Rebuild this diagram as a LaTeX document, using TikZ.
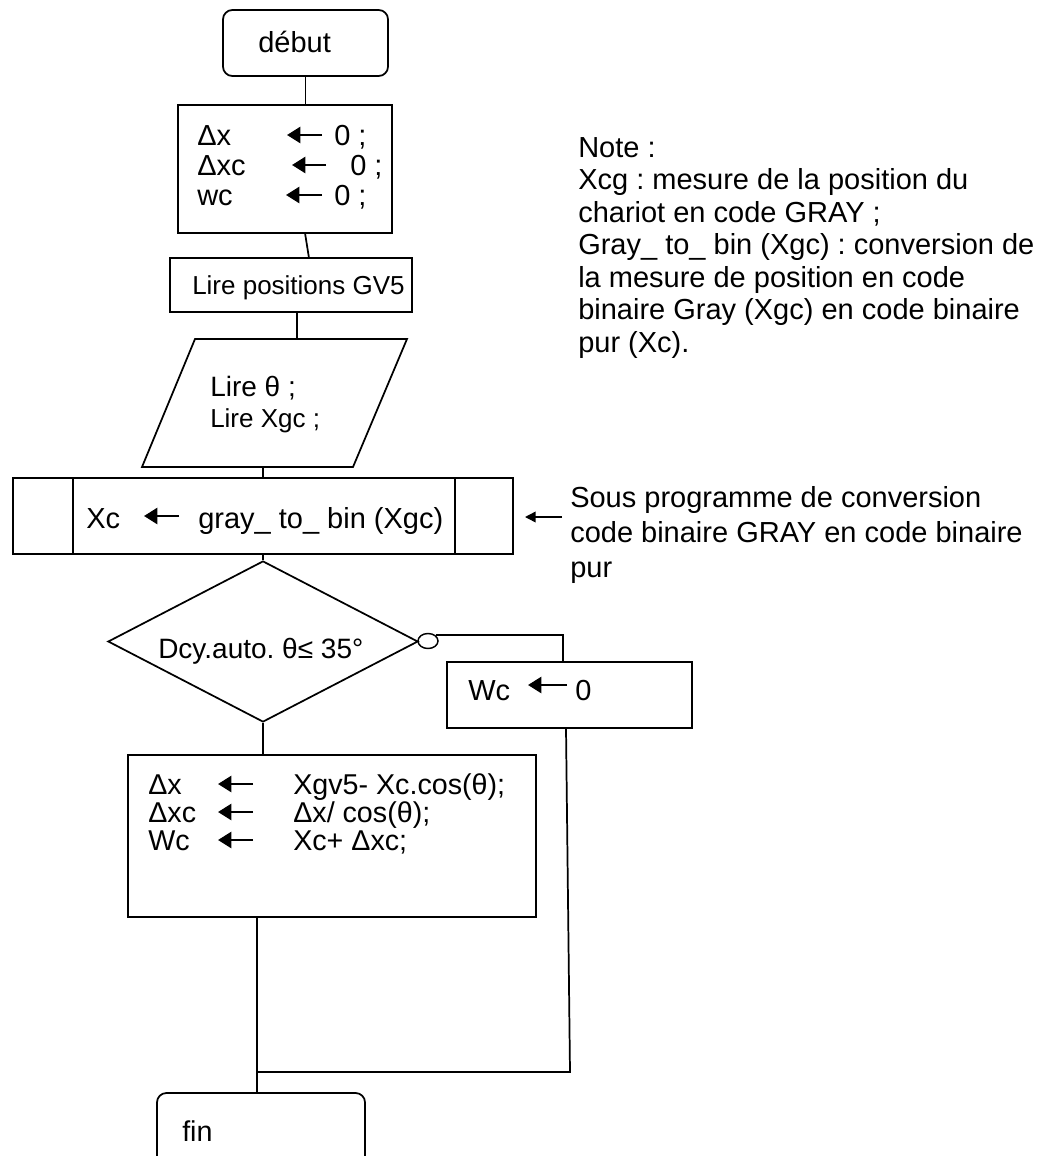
\documentclass[tikz,border=0pt]{standalone}
\usepackage{fontspec}
\setmainfont{Liberation Sans}
\usetikzlibrary{arrows.meta,shapes.geometric}
\newcommand{\pxf}[1]{\fontsize{#1}{#1}\selectfont}
\frenchspacing
\begin{document}
\frenchspacing
\begin{tikzpicture}[x=0.75pt,y=-0.75pt,
  line/.style={line width=1.3pt},
  box/.style={draw,line width=1.3pt,inner sep=0pt},
  sz/.style 2 args={minimum width={#1*0.75pt},minimum height={#2*0.75pt}},
  txt/.style={inner sep=0pt,anchor=base west},
  asg/.style={line width=1.9pt,-{Triangle[length=10pt,width=12pt]}},
  ptr/.style={line width=1.1pt,-{Triangle[length=8pt,width=8pt]}},
]
\useasboundingbox (0,0) rectangle (1049,1156);
\fill[white] (0,0) rectangle (1049,1156);

% debut
\node[box,rounded corners=7pt,sz={165}{66}] (debut) at (305.5,43) {};
\node[txt,font=\pxf{21.75pt}] (tdebut) at (258,53) {début};

% initialisation
\node[box,sz={214}{128}] (init) at (285,169) {};
\node[txt,font=\pxf{21.75pt}] (i1a) at (197,145) {Δx};
\node[txt,font=\pxf{21.75pt}] (i1b) at (334,145) {0 ;};
\draw[asg] (322,135) -- (287,135);
\node[txt,font=\pxf{21.75pt}] (i2a) at (197,175) {Δxc};
\node[txt,font=\pxf{21.75pt}] (i2b) at (350,175) {0 ;};
\draw[asg] (326,165) -- (292,165);
\node[txt,font=\pxf{21.75pt}] (i3a) at (197,205) {wc};
\node[txt,font=\pxf{21.75pt}] (i3b) at (334,205) {0 ;};
\draw[asg] (322,195) -- (286,195);

% lire positions
\node[box,sz={242}{54}] (lpos) at (291,285) {};
\node[txt,font=\pxf{19.5pt}] (tlpos) at (192,294) {Lire positions GV5};

% parallelogram
\coordinate (pTL) at (195,339);
\coordinate (pTR) at (407,339);
\coordinate (pBR) at (353,467);
\coordinate (pBL) at (142,467);
\coordinate (pTop) at (297,339);
\coordinate (pBot) at (263,467);
\draw[line,line join=miter] (pTL) -- (pTR) -- (pBR) -- (pBL) -- cycle;
\node[txt,font=\pxf{21pt}] (tl1) at (210,396) {Lire θ ;};
\node[txt,font=\pxf{19.5pt}] (tl2) at (210,427) {Lire Xgc ;};

% sous-programme
\node[box,sz={500}{76}] (sub) at (263,516) {};
\draw[line] ([xshift=45.75pt]sub.north west) -- ([xshift=45.75pt]sub.south west);
\draw[line] ([xshift=-44.25pt]sub.north east) -- ([xshift=-44.25pt]sub.south east);
\node[txt,font=\pxf{21.75pt}] (txc) at (86,528) {Xc};
\draw[asg] (179,516) -- (144,516);
\node[txt,font=\pxf{21.75pt}] (tgb) at (198,528) {gray\_ to\_ bin (Xgc)};

% note sous-programme
\coordinate (sn) at (562,517);
\coordinate (snt) at (525,517);
\draw[ptr] (sn) -- (snt);
\node[inner sep=0pt,anchor=north west,align=left,font=\fontsize{21.75pt}{26.25pt}\selectfont] (subnote) at (570,486) {Sous programme de conversion\\code binaire GRAY en code binaire\\pur};

% diamond
\node[draw,diamond,line width=1.3pt,inner sep=0pt,sz={310}{161}] (dia) at (263,641.5) {};
\node[txt,font=\pxf{21pt}] (tdia) at (158,658) {Dcy.auto. θ≤ 35°};
\node[draw,ellipse,line width=1.1pt,inner sep=0pt,sz={20}{15}] (neg) at (428,641) {};

% Wc box
\node[box,sz={245}{66}] (wc) at (569.5,695) {};
\coordinate (wcIn) at (563,662);
\node[txt,font=\pxf{21.75pt}] (twc) at (468,700) {Wc};
\draw[asg] (567,685) -- (528,685);
\node[txt,font=\pxf{21.75pt}] (twc0) at (575,700) {0};

% calcul
\node[box,sz={408}{162}] (calc) at (332,836) {};
\node[txt,font=\pxf{21.5pt}] (c1a) at (148,794) {Δx};
\draw[asg] (253,784) -- (218,784);
\node[txt,font=\pxf{21.5pt}] (c1b) at (293,794) {Xgv5- Xc.cos(θ);};
\node[txt,font=\pxf{21.5pt}] (c2a) at (148,822) {Δxc};
\draw[asg] (253,812) -- (218,812);
\node[txt,font=\pxf{21.5pt}] (c2b) at (293,822) {Δx/ cos(θ);};
\node[txt,font=\pxf{21.5pt}] (c3a) at (148,850) {Wc};
\draw[asg] (253,840) -- (218,840);
\node[txt,font=\pxf{21.5pt}] (c3b) at (293,850) {Xc+ Δxc;};

% fin
\node[box,rounded corners=7pt,sz={208}{80}] (fin) at (261,1133) {};
\node[txt,font=\pxf{21.5pt}] (tfin) at (182,1141) {fin};

% note
\node[inner sep=0pt,anchor=north west,align=left,font=\fontsize{21.75pt}{24.4pt}\selectfont] (note) at (578,137) {Note :\\Xcg : mesure de la position du\\chariot en code GRAY ;\\Gray\_ to\_ bin (Xgc) : conversion de\\la mesure de position en code\\binaire Gray (Xgc) en code binaire\\pur (Xc).};

% connectors
\coordinate (c1) at (305,233);
\coordinate (c2) at (309,258);
\coordinate (cOut) at (257,917);
\coordinate (wcOut) at (566,728);
\coordinate (jR) at (570,1072);
\coordinate (jL) at (257,1072);
\draw[line] (debut.south) -- (debut.south |- init.north);
\draw[line] (c1) -- (c2);
\draw[line] (lpos.south -| pTop) -- (pTop);
\draw[line] (pBot) -- (sub.north);
\draw[line] (sub.south) -- (dia.north);
\draw[line] (neg.north east) -| (wcIn);
\draw[line] (dia.south) -- (dia.south |- calc.north);
\draw[line] (cOut) -- (cOut |- fin.north);
\draw[line] (wcOut) -- (jR) -- (jL);
\end{tikzpicture}
\end{document}
